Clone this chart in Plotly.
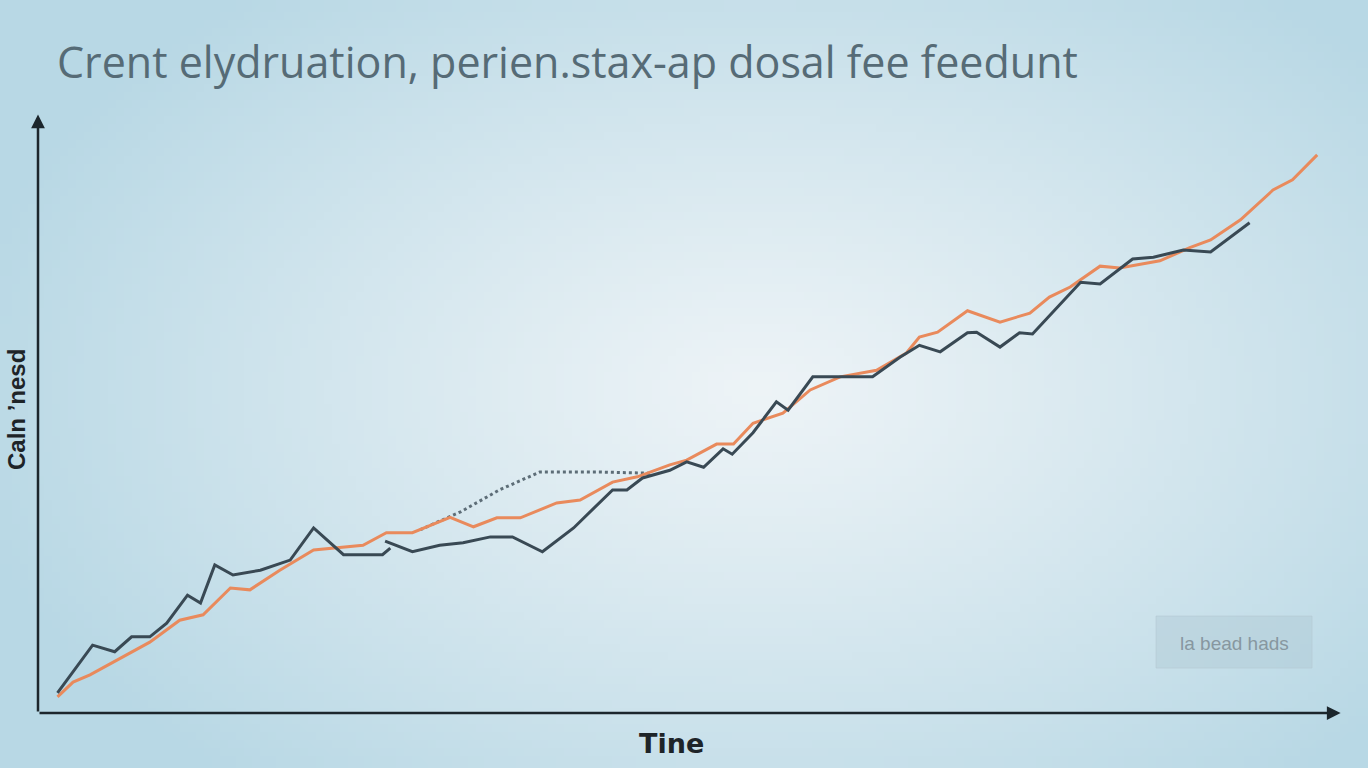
import base64
import struct
import zlib

import numpy as np
import plotly.graph_objects as go

# ---------------- data (time 0-100, value 0-100) ----------------
dark_a_x = [1.5, 4.2, 5.9, 7.2, 8.6, 9.9, 11.5, 12.5, 13.6, 15.0, 17.1, 19.4, 21.2, 23.5, 26.5, 27.1]
dark_a_y = [3.4, 11.4, 10.3, 12.8, 12.8, 15.1, 19.8, 18.5, 24.9, 23.2, 24.0, 25.7, 31.1, 26.6, 26.6, 27.7]

dark_b_x = [26.7, 28.8, 30.9, 32.7, 34.8, 36.5, 38.8, 41.2, 44.2, 45.3, 46.5, 48.6, 49.9, 51.2,
            52.7, 53.4, 55.0, 56.8, 57.7, 59.6, 61.7, 64.2, 66.3, 67.8, 69.4, 71.5, 72.2, 74.0,
            75.5, 76.5, 80.2, 81.7, 84.2, 85.8, 88.1, 90.2, 93.2]
dark_b_y = [28.9, 27.1, 28.2, 28.6, 29.6, 29.6, 27.1, 31.1, 37.5, 37.5, 39.5, 40.8, 42.2, 41.3,
            44.4, 43.5, 47.1, 52.3, 50.9, 56.5, 56.5, 56.5, 59.8, 61.8, 60.7, 63.9, 64.0, 61.5,
            63.9, 63.7, 72.4, 72.1, 76.3, 76.6, 77.8, 77.5, 82.4]

orange_x = [1.5, 2.7, 4.0, 8.6, 10.9, 12.7, 14.8, 16.3, 18.6, 21.2, 25.0, 26.8, 28.8, 31.7, 33.5,
            35.3, 37.1, 39.9, 41.7, 44.2, 46.1, 48.6, 49.9, 52.2, 53.5, 55.0, 57.3, 59.4, 61.7,
            64.5, 66.8, 67.8, 69.2, 71.5, 74.0, 76.3, 77.8, 79.4, 81.7, 83.2, 86.3, 88.6, 90.2,
            92.5, 95.0, 96.5, 98.4]
orange_y = [2.7, 5.2, 6.4, 11.9, 15.6, 16.5, 21.0, 20.7, 24.0, 27.4, 28.2, 30.3, 30.3, 32.9, 31.3,
            32.8, 32.8, 35.3, 35.8, 38.8, 39.7, 41.7, 42.5, 45.2, 45.2, 48.7, 50.4, 54.3, 56.5,
            57.6, 60.5, 63.2, 64.0, 67.6, 65.7, 67.2, 69.9, 71.6, 75.1, 74.8, 76.0, 78.2, 79.5,
            82.9, 87.9, 89.6, 93.8]

dash_x = [29.4, 32.5, 35.5, 38.6, 43.2, 47.1]
dash_y = [30.8, 33.8, 37.5, 40.5, 40.5, 40.3]

title_text = "Crent elydruation, perien.stax-ap dosal fee feedunt"
x_label = "Tine"
y_label = "Caln \u2019nesd"
legend_text = "la bead hads"

# ---------------- background gradient image ----------------
W, H = 1368, 768
gw, gh = 171, 96
xs = (np.arange(gw) + 0.5) * W / gw
ys = (np.arange(gh) + 0.5) * H / gh
X, Y = np.meshgrid(xs, ys)
d = np.sqrt(((X - 760) / 820) ** 2 + ((Y - 390) / 520) ** 2)
t = np.clip(d, 0, 1) ** 1.1
c0 = np.array([0xee, 0xf4, 0xf7], dtype=float)
c1 = np.array([0xb8, 0xd8, 0xe5], dtype=float)
img = (c0[None, None, :] * (1 - t[..., None]) + c1[None, None, :] * t[..., None]).astype(np.uint8)


def to_png(arr):
    h, w, _ = arr.shape
    raw = b"".join(b"\x00" + arr[r].tobytes() for r in range(h))

    def chunk(tag, data):
        return struct.pack(">I", len(data)) + tag + data + struct.pack(">I", zlib.crc32(tag + data) & 0xffffffff)

    return (b"\x89PNG\r\n\x1a\n" + chunk(b"IHDR", struct.pack(">IIBBBBB", w, h, 8, 2, 0, 0, 0))
            + chunk(b"IDAT", zlib.compress(raw, 9)) + chunk(b"IEND", b""))


bg_uri = "data:image/png;base64," + base64.b64encode(to_png(img)).decode()

# ---------------- figure ----------------
DARK = "#394954"
ORANGE = "#e98a5c"

fig = go.Figure()
fig.add_trace(go.Scatter(x=dash_x, y=dash_y, mode="lines", line=dict(color="#5d6d77", width=3, dash="dot"),
                         hoverinfo="skip", showlegend=False))
fig.add_trace(go.Scatter(x=orange_x, y=orange_y, mode="lines", line=dict(color=ORANGE, width=3),
                         showlegend=False))
fig.add_trace(go.Scatter(x=dark_a_x, y=dark_a_y, mode="lines", line=dict(color=DARK, width=3),
                         showlegend=False))
fig.add_trace(go.Scatter(x=dark_b_x, y=dark_b_y, mode="lines", line=dict(color=DARK, width=3),
                         showlegend=False))

x0, x1 = 38 / W, 1338 / W
y0, y1 = (H - 713) / H, (H - 118) / H

fig.update_layout(
    width=W, height=H,
    margin=dict(l=0, r=0, t=0, b=0),
    paper_bgcolor="#c8e0ea",
    plot_bgcolor="rgba(0,0,0,0)",
    xaxis=dict(domain=[x0, x1], range=[0, 100], visible=False, fixedrange=True),
    yaxis=dict(domain=[y0, y1], range=[0, 100], visible=False, fixedrange=True),
    images=[dict(source=bg_uri, xref="paper", yref="paper", x=0, y=1, sizex=1, sizey=1,
                 sizing="stretch", layer="below", xanchor="left", yanchor="top")],
    showlegend=False,
)

# axes with arrows
fig.add_annotation(x=0, y=100.6, ax=0, ay=0, xref="x", yref="y", axref="x", ayref="y",
                   text="", showarrow=True, arrowhead=2, arrowsize=1.1, arrowwidth=2.5, arrowcolor="#1c262c")
fig.add_annotation(x=100.2, y=0, ax=0, ay=0, xref="x", yref="y", axref="x", ayref="y",
                   text="", showarrow=True, arrowhead=2, arrowsize=1.1, arrowwidth=2.5, arrowcolor="#1c262c")

# title
fig.add_annotation(x=55 / W, y=1 - 61 / H, xref="paper", yref="paper", xanchor="left", yanchor="middle",
                   text=title_text, showarrow=False,
                   font=dict(family="Open Sans", size=43, color="#566b76"))
# axis labels
fig.add_annotation(x=671 / W, y=1 - 743 / H, xref="paper", yref="paper", xanchor="center", yanchor="middle",
                   text="<b>" + x_label + "</b>", showarrow=False,
                   font=dict(family="DejaVu Sans", size=27, color="#1e2428"))
fig.add_annotation(x=16 / W, y=1 - 410 / H, xref="paper", yref="paper", xanchor="center", yanchor="middle",
                   text="<b>" + y_label + "</b>", showarrow=False, textangle=-90,
                   font=dict(family="Liberation Sans", size=24, color="#1e2428"))

# legend-like box
fig.add_shape(type="rect", xref="paper", yref="paper", x0=1156 / W, x1=1312 / W,
              y0=1 - 668 / H, y1=1 - 616 / H, fillcolor="rgba(170,195,205,0.35)",
              line=dict(color="rgba(180,200,210,0.6)", width=1), layer="below")
fig.add_annotation(x=1234 / W, y=1 - 643 / H, xref="paper", yref="paper", xanchor="center", yanchor="middle",
                   text=legend_text, showarrow=False,
                   font=dict(family="Liberation Sans", size=19, color="#8797a0"))

fig.write_html("out.html", config={"displayModeBar": False},
               post_script="document.body.style.margin='0';")
